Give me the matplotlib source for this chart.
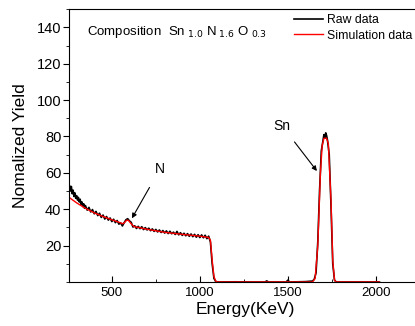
import numpy as np
import matplotlib
matplotlib.use("Agg")
import matplotlib.pyplot as plt
from matplotlib.ticker import MultipleLocator

plt.rcParams['font.family'] = ['Liberation Sans', 'DejaVu Sans']

# Raw data (energy keV, normalized yield)
raw_e = [250, 255, 260, 265, 270, 275, 280, 285, 290, 295, 300, 305, 310, 315, 320,
         325, 330, 335, 340, 345, 350, 360, 370, 380, 390,
         400, 410, 420, 430, 440, 450, 460, 470, 480, 490, 500, 510, 520, 530, 540,
         550, 560, 570, 580, 590, 600, 610, 620, 630, 640, 650, 660, 670, 680, 690,
         700, 710, 720, 730, 740, 750, 760, 770, 780, 790, 800, 810, 820, 830, 840,
         850, 860, 870, 880, 890, 900, 910, 920, 930, 940, 950, 960, 970, 980, 990,
         1000, 1010, 1020, 1030, 1040, 1050, 1060, 1070, 1080, 1090, 1100,
         1200, 1300, 1370, 1380, 1390, 1490, 1500, 1510, 1600, 1640, 1650, 1660,
         1670, 1680, 1690, 1700, 1705, 1710, 1715, 1720, 1725, 1735, 1745, 1755,
         1765, 1775, 2020]
raw_y = [54.5, 51.5, 53, 50, 52.5, 48.5, 50.5, 47, 49, 46, 47.5, 45, 46.5, 44, 45.5,
         42.5, 44, 41.5, 43, 40.5, 42, 39.5, 41, 38.5, 39.8,
         37.5, 38.8, 36.5, 37.8, 35.5, 36.8, 34.6, 36, 34, 35.2, 33.2, 34.5, 32.6, 33.8, 31.8,
         32.5, 30.8, 32.6, 34.2, 34.8, 33.6, 32.8, 30.2, 30.9, 29.4, 30.6, 29.3, 30.4, 28.8, 29.9,
         28.6, 29.6, 28.2, 29.2, 27.8, 28.9, 27.5, 28.6, 27.2, 28.3, 26.9, 28.1, 26.6, 27.9, 26.5,
         27.4, 26.1, 27.8, 25.9, 27.1, 25.6, 26.8, 25.4, 26.6, 25.1, 26.4, 24.9, 26.2, 24.6, 26,
         24.4, 25.9, 24.3, 25.7, 23.8, 25.2, 22, 10, 2, 0.3, 0,
         0.1, 0, 0, 0.6, 0, 0, 1, 0, 0.2, 0.5, 1.5, 5,
         22, 50, 72, 78, 81, 79, 82, 80.5, 78, 70, 42, 10,
         1, 0, 0]

# Simulation data
sim_e = [250, 300, 350, 400, 450, 500, 550, 560, 570, 585, 595, 610, 625, 650,
         700, 800, 900, 1000, 1050, 1060, 1070, 1080, 1090, 1100, 1640, 1655,
         1670, 1685, 1695, 1705, 1720, 1730, 1745, 1755, 1765, 1775, 2020]
sim_y = [47, 43.5, 40.5, 38, 36, 34.2, 32.5, 32, 32.5, 34, 33.8, 32, 30.5, 30,
         29, 27.3, 26.2, 25.2, 24.5, 23, 12, 3, 0.5, 0, 0, 2,
         20, 60, 75, 79, 79, 76, 45, 12, 1, 0, 0]

fig = plt.figure(figsize=(4.15, 3.26), dpi=100)
ax = fig.add_axes([0.166, 0.135, 0.85, 0.837])

ax.plot(raw_e, raw_y, color="black", lw=1.2, label="Raw data")
ax.plot(sim_e, sim_y, color="red", lw=1.0, label="Simulation data")

ax.set_xlim(256, 2260)
ax.set_ylim(0, 150)
ax.set_xticks([500, 1000, 1500, 2000])
ax.set_yticks([20, 40, 60, 80, 100, 120, 140])
ax.xaxis.set_minor_locator(MultipleLocator(250))
ax.yaxis.set_minor_locator(MultipleLocator(10))
ax.tick_params(axis="x", which="both", direction="in", labelsize=9.5)
ax.tick_params(axis="x", which="major", length=4)
ax.tick_params(axis="x", which="minor", length=2)
ax.tick_params(axis="y", which="both", direction="out", labelsize=10.5, pad=1.5)
ax.tick_params(axis="y", which="major", length=4)
ax.tick_params(axis="y", which="minor", length=2)

ax.set_xlabel("Energy(KeV)", fontsize=12.5, labelpad=2)
ax.set_ylabel("Nomalized Yield", fontsize=12.5, labelpad=6)

ax.text(0.05, 0.915, r"Composition  Sn$_{\ 1.0}$ N$_{\ 1.6}$ O$_{\ 0.3}$",
        transform=ax.transAxes, fontsize=9.5, va="center")

ax.annotate("Sn", xy=(1665, 61), xytext=(1466, 86), fontsize=10,
            ha="center", va="center",
            arrowprops=dict(arrowstyle="-|>", color="black", lw=0.8,
                            mutation_scale=7, shrinkA=6, shrinkB=0))
ax.annotate("N", xy=(614, 35), xytext=(773, 62), fontsize=10,
            ha="center", va="center",
            arrowprops=dict(arrowstyle="-|>", color="black", lw=0.8,
                            mutation_scale=7, shrinkA=7, shrinkB=0))

ax.legend(loc="upper left", bbox_to_anchor=(0.696, 0.972),
          bbox_transform=fig.transFigure, frameon=False, fontsize=8.8,
          handlelength=2.4, handletextpad=0.3, labelspacing=0.3,
          borderaxespad=0.0)

fig.savefig("out.png", dpi=100)
